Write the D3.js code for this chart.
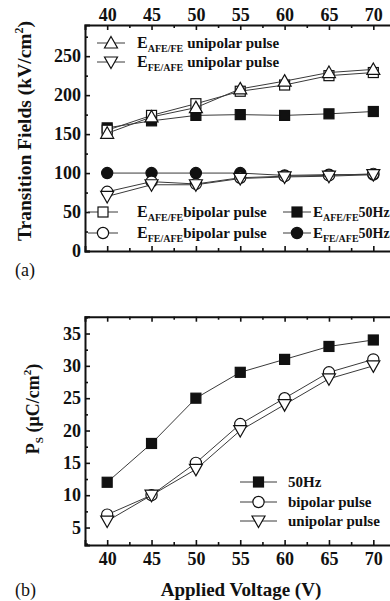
<!DOCTYPE html>
<html><head><meta charset="utf-8">
<script src="https://cdn.jsdelivr.net/npm/d3@7"></script>
<style>html,body{margin:0;padding:0;background:#fff;overflow:hidden}svg{display:block}</style>
</head><body>
<svg id="c" width="390" height="601"></svg>
<script>
const voltages = [40, 45, 50, 55, 60, 65, 70];
const xTicks = [40, 45, 50, 55, 60, 65, 70];
const aTicks = [0, 50, 100, 150, 200, 250];
const bTicks = [5, 10, 15, 20, 25, 30, 35];
// panel (a) transition fields
const afeUni = [151, 172, 184, 208, 218, 229, 233];
const feaUni = [70, 85, 85, 93, 95, 96, 98];
const afeBi = [155, 174, 189, 205, 213, 225, 229];
const feaBi = [76, 89, 86, 94, 96, 97, 99];
const afe50 = [158, 167, 174, 175, 174, 176, 179];
const fea50 = [100, 100, 100, 100, 97, 98, 98];
// panel (b) Ps
const ps50 = [12, 18, 25, 29, 31, 33, 34];
const psBi = [7, 10, 15, 21, 25, 29, 31];
const psUni = [6, 10, 14, 20, 24, 28, 30];

const svg = d3.select('#c');
const FONT = 'Liberation Serif, Times New Roman, serif';
const x = d3.scaleLinear().domain([37.5, 72.5]).range([85, 395.5]);
const ya = d3.scaleLinear().domain([0, 290]).range([251, 25]);
const yb = d3.scaleLinear().domain([2.3, 37.6]).range([545, 316.7]);
const LINE = '#3a3a3a', INK = '#111';

function sym(g, type, cx, cy) {
  const filled = type.startsWith('f');
  const t = type.replace(/^f/, '');
  let el;
  if (t === 'sq') el = g.append('rect').attr('x', cx - 5).attr('y', cy - 5).attr('width', 10).attr('height', 10);
  else if (t === 'ci') el = g.append('circle').attr('cx', cx).attr('cy', cy).attr('r', 5.6);
  else if (t === 'up') el = g.append('path').attr('d', `M${cx},${cy-6.5}L${cx+6.5},${cy+5}L${cx-6.5},${cy+5}Z`);
  else el = g.append('path').attr('d', `M${cx},${cy+6.5}L${cx+6.5},${cy-5}L${cx-6.5},${cy-5}Z`);
  el.attr('fill', filled ? INK : '#fff').attr('stroke', INK).attr('stroke-width', 1.2);
}

function series(g, ys, vals, type) {
  const line = d3.line().x((d, i) => x(voltages[i])).y(d => ys(d));
  g.append('path').attr('d', line(vals)).attr('fill', 'none').attr('stroke', LINE).attr('stroke-width', 1);
  vals.forEach((v, i) => sym(g, type, x(voltages[i]), ys(v)));
}

function frame(ys, top, bottom, yt, yMinor, showTopLabels, showBottomLabels) {
  const g = svg.append('g');
  const xMinor = d3.range(37.5, 72.6, 2.5).filter(v => v > 37.6);
  const axB = d3.axisBottom(x).tickValues(xMinor).tickSize(-5).tickFormat(d => (showBottomLabels && xTicks.includes(d)) ? d : '');
  const axT = d3.axisTop(x).tickValues(xMinor).tickSize(-5).tickFormat(d => (showTopLabels && xTicks.includes(d)) ? d : '');
  const axL = d3.axisLeft(ys).tickValues(yMinor).tickSize(-5).tickFormat(d => yt.includes(d) ? d : '');
  const gb = g.append('g').attr('transform', `translate(0,${bottom})`).call(axB);
  const gt = g.append('g').attr('transform', `translate(0,${top})`).call(axT);
  const gl = g.append('g').attr('transform', `translate(85,0)`).call(axL);
  [gb, gt, gl].forEach(a => {
    a.attr('font-family', FONT).attr('font-size', 18);
    a.select('.domain').attr('stroke', INK).attr('stroke-width', 2);
    a.selectAll('.tick line').attr('stroke', INK).attr('stroke-width', 1.6);
    a.selectAll('.tick text').attr('font-family', FONT).attr('font-weight', 'bold').attr('font-size', 18).attr('fill', INK);
  });
  gb.selectAll('.tick').filter(d => !xTicks.includes(d)).select('line').attr('y2', -3);
  gt.selectAll('.tick').filter(d => !xTicks.includes(d)).select('line').attr('y2', 3);
  gl.selectAll('.tick').filter(d => !yt.includes(d)).select('line').attr('x2', 3);
  gl.selectAll('.tick text').attr('x', -4);
  gb.selectAll('.tick text').attr('y', 7);
  gt.selectAll('.tick text').attr('y', -4);
  return g;
}

// ---------- Panel (a)
frame(ya, 25, 251, aTicks, d3.range(0, 290, 25), true, false);
const pa = svg.append('g');
series(pa, ya, afe50, 'fsq');
series(pa, ya, fea50, 'fci');
series(pa, ya, afeBi, 'sq');
series(pa, ya, afeUni, 'up');
series(pa, ya, feaBi, 'ci');
series(pa, ya, feaUni, 'dn');

function legendItem(g, type, x0, x1, cy, tx, sub, rest, subSpace, fs) {
  fs = fs || 15;
  g.append('line').attr('x1', x0).attr('x2', x1).attr('y1', cy).attr('y2', cy).attr('stroke', LINE).attr('stroke-width', 1);
  sym(g, type, (x0 + x1) / 2, cy);
  const t = g.append('text').attr('x', tx).attr('y', cy + 5).attr('font-family', FONT).attr('font-weight', 'bold').attr('font-size', fs).attr('fill', INK);
  if (sub) {
    t.append('tspan').text('E').attr('font-size', fs + 1);
    t.append('tspan').text(sub).attr('font-size', 10).attr('dy', 4);
    t.append('tspan').text(rest).attr('dy', -4).attr('dx', subSpace ? 4 : 0);
  } else t.text(rest);
}
const la = svg.append('g');
legendItem(la, 'up', 97, 125, 43, 137, 'AFE/FE', 'unipolar pulse', true);
legendItem(la, 'dn', 97, 125, 62, 137, 'FE/AFE', 'unipolar pulse', true);
legendItem(la, 'sq', 88, 118, 212, 137, 'AFE/FE', 'bipolar pulse', false);
legendItem(la, 'ci', 88, 118, 233, 137, 'FE/AFE', 'bipolar pulse', false);
legendItem(la, 'fsq', 283, 311, 212, 313, 'AFE/FE', '50Hz', false, 14);
legendItem(la, 'fci', 283, 311, 233, 313, 'FE/AFE', '50Hz', false, 14);

// ---------- Panel (b)
frame(yb, 316.7, 545, bTicks, d3.range(2.5, 37.6, 2.5), false, true);
const pb = svg.append('g');
series(pb, yb, ps50, 'fsq');
series(pb, yb, psBi, 'ci');
series(pb, yb, psUni, 'dn');
const lb = svg.append('g');
legendItem(lb, 'fsq', 240, 277, 482, 288, null, '50Hz');
legendItem(lb, 'ci', 240, 277, 502, 288, null, 'bipolar pulse');
legendItem(lb, 'dn', 240, 277, 521, 288, null, 'unipolar pulse');

// ---------- Titles
svg.append('text').attr('transform', 'translate(31,131) rotate(-90)').attr('text-anchor', 'middle')
  .attr('font-family', FONT).attr('font-weight', 'bold').attr('font-size', 19.5).attr('fill', INK)
  .call(t => { t.append('tspan').text('Transition Fields (kV/cm'); t.append('tspan').text('2').attr('font-size', 12).attr('dy', -8); t.append('tspan').text(')').attr('dy', 8); });
svg.append('text').attr('transform', 'translate(39,409) rotate(-90)').attr('text-anchor', 'middle')
  .attr('font-family', FONT).attr('font-weight', 'bold').attr('font-size', 18).attr('fill', INK)
  .call(t => { t.append('tspan').text('P'); t.append('tspan').text('S').attr('font-size', 11).attr('dy', 4); t.append('tspan').text(' (μC/cm').attr('dy', -4); t.append('tspan').text('2').attr('font-size', 11).attr('dy', -8); t.append('tspan').text(')').attr('dy', 8); });
svg.append('text').attr('x', 241).attr('y', 596).attr('text-anchor', 'middle')
  .attr('font-family', FONT).attr('font-weight', 'bold').attr('font-size', 19).attr('fill', INK).text('Applied Voltage (V)');
svg.append('text').attr('x', 15).attr('y', 276).attr('font-family', FONT).attr('font-size', 18).attr('fill', INK).text('(a)');
svg.append('text').attr('x', 15).attr('y', 596).attr('font-family', FONT).attr('font-size', 18).attr('fill', INK).text('(b)');
</script>
</body></html>
